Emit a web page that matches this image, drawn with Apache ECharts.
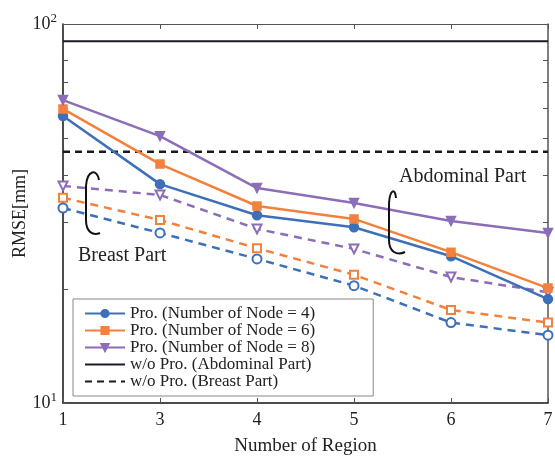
<!DOCTYPE html>
<html>
<head>
<meta charset="utf-8">
<script src="https://cdn.jsdelivr.net/npm/echarts@6/dist/echarts.min.js"></script>
<style>
  html, body { margin: 0; padding: 0; background: #fff; }
  #chart { width: 555px; height: 459px; }
</style>
</head>
<body>
<div id="chart"></div>
<script>
// x categories (evenly spaced in the figure)
const regions = ['1', '3', '4', '5', '6', '7']

// proposed method, abdominal part (solid lines)
const abdNode4 = [57.2, 37.8, 31.3, 29.1, 24.4, 18.8]
const abdNode6 = [59.7, 42.7, 33.1, 30.6, 25.0, 20.1]
const abdNode8 = [63.0, 50.6, 36.9, 33.7, 30.2, 28.1]

// proposed method, breast part (dashed lines)
const brNode4 = [32.7, 28.1, 24.0, 20.4, 16.3, 15.1]
const brNode6 = [34.8, 30.4, 25.6, 21.8, 17.6, 16.3]
const brNode8 = [37.4, 35.4, 28.8, 25.5, 21.5, 19.6]

// without proposed method
const woAbdominal = [90, 90, 90, 90, 90, 90]
const woBreast = [46, 46, 46, 46, 46, 46]

const yLabelValues = [10, 100]
const yTickValues = [10, 20, 30, 40, 50, 60, 70, 80, 90, 100]

const names = [
  'Pro. (Number of Node = 4)',
  'Pro. (Number of Node = 6)',
  'Pro. (Number of Node = 8)',
  'w/o Pro. (Abdominal Part)',
  'w/o Pro. (Breast Part)'
]

const BLUE = '#3d70b8'
const ORANGE = '#f2813e'
const PURPLE = '#8b6db8'
const FONT = 'Liberation Serif'

function solid (name, data, color, symbol, rotate) {
  return {
    name, type: 'line', data,
    symbol, symbolSize: symbol === 'rect' ? 8 : 9, symbolRotate: rotate || 0,
    lineStyle: { color, width: 2.5 },
    itemStyle: { color, borderColor: color, borderWidth: 1.5 },
    z: 3
  }
}

function dashed (name, data, color, symbol, rotate) {
  return {
    name, type: 'line', data,
    symbol: symbol, symbolSize: symbol === 'rect' ? 8 : 9, symbolRotate: rotate || 0,
    lineStyle: { color, width: 2.5, type: [8, 6] },
    itemStyle: { color: '#fff', borderColor: color, borderWidth: 2 },
    z: 2
  }
}

// curly bracket drawn as curve + line + curve
function bracket (top, mid, bottom, z) {
  const st = { fill: 'none', stroke: '#111', lineWidth: 2 }
  return [
    { type: 'bezierCurve', shape: top, style: st, z },
    { type: 'line', shape: mid, style: st, z },
    { type: 'bezierCurve', shape: bottom, style: st, z }
  ]
}

const chart = echarts.init(document.getElementById('chart'))

const yAxisBase = {
  type: 'log', logBase: 10, min: 10, max: 100,
  axisLine: { show: true, lineStyle: { color: '#111', width: 1.5 } },
  splitLine: { show: false },
  axisTick: { show: true, inside: true, length: 5, customValues: yTickValues, lineStyle: { color: '#555' } }
}

// legend entries; the plain black lines get no marker
const legendData = names.map((n, i) => i < 3 ? n : { name: n, itemStyle: { opacity: 0 } })

chart.setOption({
  animation: false,
  textStyle: { fontFamily: FONT },
  grid: { left: 63, right: 7, top: 24, bottom: 56, outerBoundsMode: 'none', containLabel: false },
  legend: {
    data: legendData,
    orient: 'vertical',
    left: 73, top: 299,
    padding: [6, 58, 6, 11],
    itemGap: 0,
    itemWidth: 40, itemHeight: 9,
    borderColor: '#888', borderWidth: 1,
    textStyle: { fontFamily: FONT, fontSize: 17, lineHeight: 16, color: '#222' }
  },
  xAxis: [{
    type: 'category', data: regions, boundaryGap: false,
    axisLine: { lineStyle: { color: '#111', width: 1.5 } },
    axisTick: { inside: true, length: 5, lineStyle: { color: '#555' } },
    axisLabel: { fontFamily: FONT, fontSize: 18, color: '#222', margin: 8 },
    name: 'Number of Region', nameLocation: 'middle', nameGap: 34, nameMoveOverlap: false,
    nameTextStyle: { fontFamily: FONT, fontSize: 19, color: '#222' }
  }, {
    type: 'category', data: regions, boundaryGap: false, position: 'top',
    axisLine: { lineStyle: { color: '#555', width: 1 } },
    axisTick: { inside: true, length: 5, lineStyle: { color: '#555' } },
    axisLabel: { show: false }
  }],
  yAxis: [Object.assign({}, yAxisBase, {
    position: 'left',
    axisLabel: {
      customValues: yLabelValues,
      formatter: v => '10{s|' + Math.round(Math.log10(v)) + '}',
      fontFamily: FONT, fontSize: 18, color: '#222', margin: 6,
      rich: { s: { fontFamily: FONT, fontSize: 13, color: '#222', verticalAlign: 'top', padding: [0, 0, 10, 0] } }
    },
    name: 'RMSE[mm]', nameLocation: 'middle', nameGap: 34, nameRotate: 90, nameMoveOverlap: false,
    nameTextStyle: { fontFamily: FONT, fontSize: 18, color: '#222' }
  }), Object.assign({}, yAxisBase, {
    position: 'right',
    axisLine: { show: true, lineStyle: { color: '#555', width: 1.5 } },
    axisLabel: { show: false }
  })],
  series: [
    solid(names[0], abdNode4, BLUE, 'circle'),
    solid(names[1], abdNode6, ORANGE, 'rect'),
    solid(names[2], abdNode8, PURPLE, 'triangle', 180),
    dashed(names[0], brNode4, BLUE, 'circle'),
    dashed(names[1], brNode6, ORANGE, 'rect'),
    dashed(names[2], brNode8, PURPLE, 'triangle', 180),
    {
      name: names[3], type: 'line', data: woAbdominal, symbol: 'none',
      lineStyle: { color: '#1a1a2a', width: 2 }, itemStyle: { color: '#1a1a2a' }, z: 1
    },
    {
      name: names[4], type: 'line', data: woBreast, symbol: 'none',
      lineStyle: { color: '#1a1a1a', width: 2.5, type: [7, 5] }, itemStyle: { color: '#1a1a1a' }, z: 1
    }
  ],
  graphic: [
    {
      type: 'text', left: 399, top: 167,
      style: { text: 'Abdominal Part', font: '20px "Liberation Serif"', fill: '#222' }
    },
    {
      type: 'text', left: 78, top: 246,
      style: { text: 'Breast Part', font: '20px "Liberation Serif"', fill: '#222' }
    }
  ].concat(
    bracket(
      { x1: 99, y1: 180, cpx1: 97, cpy1: 168, cpx2: 87, cpy2: 170, x2: 86, y2: 186 },
      { x1: 86, y1: 186, x2: 86, y2: 220 },
      { x1: 86, y1: 220, cpx1: 86, cpy1: 232, cpx2: 93, cpy2: 236, x2: 100, y2: 233 },
      10
    ),
    bracket(
      { x1: 396, y1: 198, cpx1: 395, cpy1: 187, cpx2: 390, cpy2: 190, x2: 389, y2: 203 },
      { x1: 389, y1: 203, x2: 389, y2: 240 },
      { x1: 389, y1: 240, cpx1: 389, cpy1: 252, cpx2: 397, cpy2: 256, x2: 405, y2: 252 },
      10
    )
  )
})
</script>
</body>
</html>
